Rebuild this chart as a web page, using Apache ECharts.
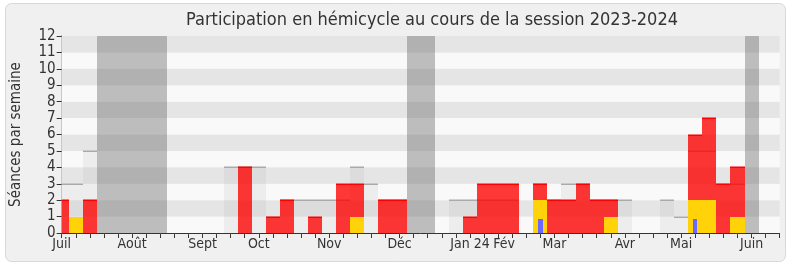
<!DOCTYPE html>
<html>
<head>
<meta charset="utf-8">
<script src="https://cdn.jsdelivr.net/npm/echarts@6/dist/echarts.min.js"></script>
<style>
html,body{margin:0;padding:0;background:#fff;}
#c{width:790px;height:267px;}
</style>
</head>
<body>
<div id="c"></div>
<script>
// Weeks from July 2023 (index 0) to June 2024 (index 51)
const weekCount = 52;
const monthLabels = {0:'Juil',5:'Août',10:'Sept',14:'Oct',19:'Nov',24:'Déc',29:'Jan 24',31:'Fév',35:'Mar',40:'Avr',44:'Mai',49:'Juin'};
const vacationWeeks = [3,4,5,6,7,25,26,49];
// gray: sessions of the week (total)
const totalSessions = [3,3,5,0,0,0,0,0,0,0,0,0,4,4,4,1,2,2,2,2,2,4,3,2,2,0,0,0,2,2,2,2,2,0,3,2,3,3,2,2,2,0,0,2,1,5,5,3,3,0,0,0];
// red: presences
const presences    = [2,0,2,0,0,0,0,0,0,0,0,0,0,4,0,1,2,0,1,0,3,3,0,2,2,0,0,0,0,1,3,3,3,0,3,2,2,3,2,2,0,0,0,0,0,6,7,3,4,0,0,0];
// yellow: participations
const participations = [0,1,0,0,0,0,0,0,0,0,0,0,0,0,0,0,0,0,0,0,0,1,0,0,0,0,0,0,0,0,0,0,0,0,2,0,0,0,0,1,0,0,0,0,0,2,2,0,1,0,0,0];
// blue: questions
const questions = [0,0,0,0,0,0,0,0,0,0,0,0,0,0,0,0,0,0,0,0,0,0,0,0,0,0,0,0,0,0,0,0,0,0,0.85,0,0,0,0,0,0,0,0,0,0,0.85,0,0,0,0,0,0];

const FONT = '"DejaVu Sans Condensed", "DejaVu Sans", sans-serif';

function pairs(arr){ return arr.map((v,i)=>[i,v]); }

function makeRender(widthFrac, fill, topColor, topH){
  return function(params, api){
    const i = api.value(0), v = api.value(1);
    if (!v) return null;
    const p0 = api.coord([i - widthFrac/2, 0]);
    const p1 = api.coord([i + widthFrac/2, v]);
    const cs = params.coordSys;
    const clip = {x: cs.x, y: cs.y, width: cs.width, height: cs.height};
    const x0 = Math.round(p0[0]), x1 = Math.round(p1[0]);
    const yb = Math.round(p0[1]), yt = Math.round(p1[1]);
    const body = echarts.graphic.clipRectByRect({x:x0, y:yt, width:x1-x0, height:yb-yt}, clip);
    const children = [];
    if (body) children.push({type:'rect', shape: body, style:{fill: fill}});
    if (topColor){
      const top = echarts.graphic.clipRectByRect({x:x0, y:yt-0.5, width:x1-x0, height:topH}, clip);
      if (top) children.push({type:'rect', shape: top, style:{fill: topColor}});
    }
    return {type:'group', children: children};
  };
}

const chart = echarts.init(document.getElementById('c'), null, {renderer:'canvas'});
chart.setOption({
  backgroundColor: '#ffffff',
  animation: false,
  textStyle: {fontFamily: FONT},
  graphic: [{
    type:'rect', z:-10, silent:true,
    shape:{x:5.5, y:3.5, width:780, height:258, r:6},
    style:{fill:'#f0f0f0', stroke:'#d8d8d8', lineWidth:1}
  }],
  title: {
    text: 'Participation en hémicycle au cours de la session 2023-2024',
    left: 427, top: 6, textAlign: 'center',
    textStyle: {fontFamily: FONT, fontSize: 18, fontWeight: 'normal', color: '#333'}
  },
  grid: {left: 61.7, right: 10.3, top: 36, bottom: 34, containLabel: false},
  xAxis: [{
    type: 'value', min: 0, max: weekCount - 1, interval: 1,
    axisLine: {show: true, onZero: false, lineStyle: {color: '#333', width: 1}},
    axisTick: {show: true, length: 5, lineStyle: {color: '#333'}},
    splitLine: {show: false},
    axisLabel: {
      fontFamily: FONT, fontSize: 14, color: '#333', margin: 4,
      showMinLabel: true, showMaxLabel: true,
      formatter: v => v === 31 ? '{f|' + monthLabels[v] + '}' : (monthLabels[v] || ''),
      rich: {f: {fontFamily: FONT, fontSize: 14, color: '#333', padding: [0, 0, 0, 12]}}
    }
  },{
    type: 'value', position: 'top', min: 0, max: weekCount - 1, interval: 1,
    axisLine: {show: false},
    axisTick: {show: true, inside: true, length: 2, lineStyle: {color: '#444'}},
    axisLabel: {show: false}, splitLine: {show: false}
  }],
  yAxis: [{
    type: 'value', min: 0, max: 12, interval: 1,
    name: 'Séances par semaine', nameLocation: 'middle', nameGap: 38, nameRotate: 90,
    nameTextStyle: {fontFamily: FONT, fontSize: 15, color: '#333'},
    axisLine: {show: true, lineStyle: {color: '#333'}},
    axisTick: {show: true, length: 5, lineStyle: {color: '#333'}},
    axisLabel: {fontFamily: FONT, fontSize: 15, color: '#333', margin: 6},
    splitLine: {show: false},
    splitArea: {show: true, areaStyle: {color: ['#f9f9f9', '#e5e5e5']}}
  },{
    type: 'value', position: 'right', min: 0, max: 12, interval: 1,
    axisLine: {show: true, lineStyle: {color: '#c8c8c8'}},
    axisTick: {show: false}, axisLabel: {show: false}, splitLine: {show: false}
  }],
  series: [
    {type:'custom', name:'Vacances', renderItem: makeRender(1, 'rgba(100,100,100,0.4)', null, 0),
     data: vacationWeeks.map(w=>[w,12]), z: 1},
    {type:'custom', name:'Séances', renderItem: makeRender(1, 'rgba(170,170,170,0.15)', '#aaaaaa', 1.5),
     data: pairs(totalSessions), z: 2},
    {type:'custom', name:'Présences', renderItem: makeRender(1, 'rgba(255,0,0,0.78)', '#ff0000', 1.5),
     data: pairs(presences), z: 3},
    {type:'custom', name:'Participations', renderItem: makeRender(1, 'rgb(255,210,10)', null, 0),
     data: pairs(participations), z: 4},
    {type:'custom', name:'Questions', renderItem: makeRender(0.31, 'rgb(105,105,255)', null, 0),
     data: pairs(questions), z: 5}
  ]
});
</script>
</body>
</html>
